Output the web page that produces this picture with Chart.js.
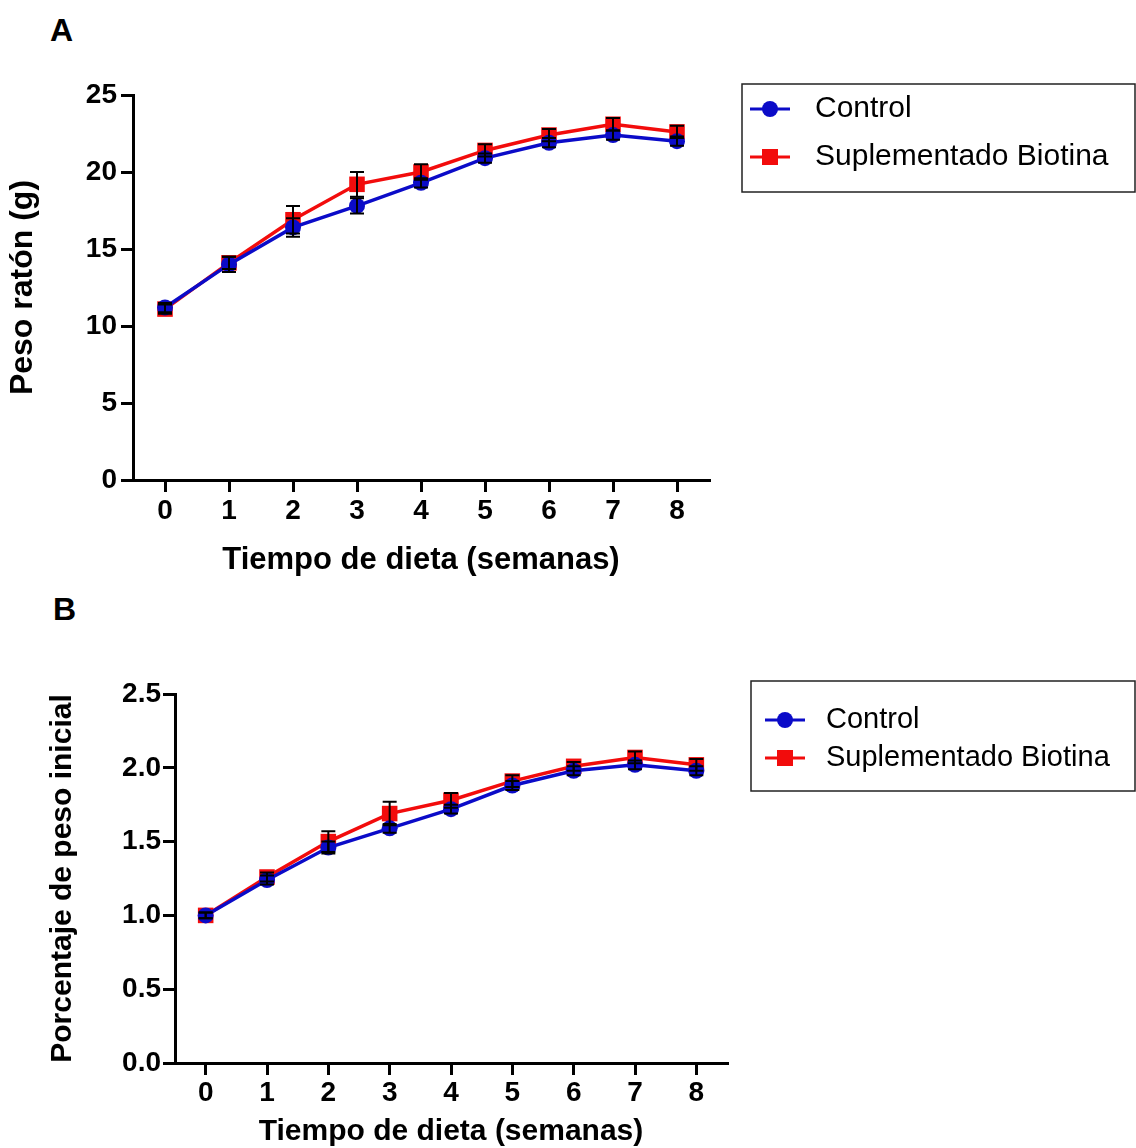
<!DOCTYPE html>
<html>
<head>
<meta charset="utf-8">
<script src="https://cdn.jsdelivr.net/npm/chart.js@4.4.1/dist/chart.umd.min.js"></script>
<style>
  body { margin: 0; background: #fff; }
  #wrap { position: relative; width: 1136px; height: 1148px; overflow: hidden; }
  .panel { position: absolute; left: 0; width: 1136px; }
  .letra { position: absolute; font: bold 32px "Liberation Sans", Arial, sans-serif; line-height: 1; color: #000; }
</style>
</head>
<body>
<div id="wrap">
  <div class="letra" style="left:50px; top:14px;">A</div>
  <div class="letra" style="left:53px; top:593px;">B</div>
  <div class="panel" style="top:0; height:590px;"><canvas id="chartA"></canvas></div>
  <div class="panel" style="top:590px; height:558px;"><canvas id="chartB"></canvas></div>
</div>
<script>
// --- datos ---
const semanas = [0, 1, 2, 3, 4, 5, 6, 7, 8];
const series = ["Control", "Suplementado Biotina"];

// A: peso del raton (g)
const pesoControl = [11.2, 14.0, 16.4, 17.8, 19.3, 20.9, 21.9, 22.4, 22.0];
const pesoBiotina = [11.1, 14.1, 16.9, 19.2, 20.0, 21.4, 22.4, 23.1, 22.6];
const errPesoControl = [0.3, 0.5, 0.6, 0.5, 0.3, 0.3, 0.3, 0.3, 0.3];
const errPesoBiotina = [0.3, 0.4, 0.9, 0.8, 0.5, 0.4, 0.4, 0.4, 0.4];

// B: porcentaje de peso inicial
const pctControl = [1.0, 1.24, 1.46, 1.59, 1.72, 1.88, 1.98, 2.02, 1.98];
const pctBiotina = [1.0, 1.26, 1.50, 1.69, 1.78, 1.91, 2.01, 2.07, 2.02];
const errPctControl = [0.02, 0.03, 0.04, 0.03, 0.03, 0.03, 0.03, 0.03, 0.03];
const errPctBiotina = [0.02, 0.03, 0.07, 0.08, 0.05, 0.04, 0.03, 0.04, 0.04];

const AZUL = "#0b0bc8";
const ROJO = "#f20c0c";
const FUENTE = '"Liberation Sans", Arial, sans-serif';

// barras de error dibujadas con las escalas del grafico
const barrasError = {
  id: "barrasError",
  afterDatasetsDraw(chart) {
    const { ctx, scales: { x, y } } = chart;
    ctx.save();
    ctx.strokeStyle = "#000";
    ctx.lineWidth = 2;
    chart.data.datasets.forEach((ds) => {
      ds.data.forEach((p, i) => {
        const e = ds.err[i];
        const px = x.getPixelForValue(p.x);
        const yHi = y.getPixelForValue(p.y + e);
        const yLo = y.getPixelForValue(p.y - e);
        ctx.beginPath();
        ctx.moveTo(px, yHi); ctx.lineTo(px, yLo);
        ctx.moveTo(px - 7, yHi); ctx.lineTo(px + 7, yHi);
        ctx.moveTo(px - 7, yLo); ctx.lineTo(px + 7, yLo);
        ctx.stroke();
      });
    });
    ctx.restore();
  },
};

// leyenda con recuadro (estilo GraphPad)
const cajaLeyenda = {
  id: "cajaLeyenda",
  afterDraw(chart, args, o) {
    const ctx = chart.ctx;
    ctx.save();
    ctx.strokeStyle = "#222";
    ctx.lineWidth = 1.5;
    ctx.strokeRect(o.x, o.y, o.w, o.h);
    chart.data.datasets.forEach((ds, i) => {
      const cy = o.filas[i];
      ctx.strokeStyle = ds.borderColor;
      ctx.lineWidth = 3;
      ctx.beginPath();
      ctx.moveTo(o.lx, cy); ctx.lineTo(o.lx + 40, cy);
      ctx.stroke();
      ctx.fillStyle = ds.borderColor;
      if (ds.pointStyle === "circle") {
        ctx.beginPath(); ctx.arc(o.lx + 20, cy, 8, 0, Math.PI * 2); ctx.fill();
      } else {
        ctx.fillRect(o.lx + 12, cy - 8, 16, 16);
      }
      ctx.fillStyle = "#000";
      ctx.font = o.size + "px " + FUENTE;
      ctx.textBaseline = "middle";
      ctx.fillText(ds.label, o.tx, cy);
    });
    ctx.restore();
  },
};

function puntos(vals) {
  return semanas.map((s, i) => ({ x: s, y: vals[i] }));
}

function serie(label, vals, err, color, estilo) {
  return {
    label, err,
    data: puntos(vals),
    borderColor: color,
    backgroundColor: color,
    borderWidth: 3.5,
    pointStyle: estilo,
    pointRadius: estilo === "circle" ? 8 : 11,
    pointBorderWidth: 0,
    tension: 0,
  };
}

function crearGrafico(id, cfg) {
  return new Chart(document.getElementById(id), {
    type: "line",
    data: {
      datasets: [
        serie(series[0], cfg.control, cfg.errControl, AZUL, "circle"),
        serie(series[1], cfg.biotina, cfg.errBiotina, ROJO, "rect"),
      ],
    },
    options: {
      responsive: true,
      maintainAspectRatio: false,
      animation: false,
      layout: { padding: cfg.padding },
      plugins: {
        legend: { display: false },
        tooltip: { enabled: false },
        cajaLeyenda: cfg.leyenda,
      },
      scales: {
        x: {
          type: "linear",
          min: -0.5, max: 8.5,
          afterBuildTicks: (s) => { s.ticks = semanas.map((v) => ({ value: v })); },
          afterFit: (s) => { s.height = cfg.xAlto; },
          border: { color: "#000", width: 3 },
          grid: { drawOnChartArea: false, color: "#000", lineWidth: 3, tickLength: 12 },
          ticks: { color: "#000", padding: cfg.xPad, font: { family: FUENTE, size: 28, weight: "bold", lineHeight: 1 } },
          title: {
            display: true, text: "Tiempo de dieta (semanas)", color: "#000",
            font: { family: FUENTE, size: cfg.xTitSize, weight: "bold", lineHeight: 1.1 },
            padding: { top: 0, bottom: cfg.xTitPad },
          },
        },
        y: {
          min: 0, max: cfg.yMax,
          afterFit: (s) => { s.width = cfg.yAncho; },
          border: { color: "#000", width: 3 },
          grid: { drawOnChartArea: false, color: "#000", lineWidth: 3, tickLength: 12 },
          ticks: {
            stepSize: cfg.yPaso, color: "#000", padding: cfg.yPad,
            font: { family: FUENTE, size: 28, weight: "bold" },
            callback: cfg.yFmt,
          },
          title: {
            display: true, text: cfg.yTitulo, color: "#000",
            font: { family: FUENTE, size: cfg.yTitSize, weight: "bold", lineHeight: 1.1 },
            padding: { top: cfg.yTitPad, bottom: 0 },
          },
        },
      },
    },
    plugins: [barrasError, cajaLeyenda],
  });
}

crearGrafico("chartA", {
  control: pesoControl, biotina: pesoBiotina,
  errControl: errPesoControl, errBiotina: errPesoBiotina,
  yMax: 25, yPaso: 5, yFmt: (v) => v,
  yTitulo: "Peso ratón (g)",
  padding: { top: 95, right: 427, left: 0, bottom: 0 },
  yAncho: 133, xAlto: 110, xPad: 5, xTitPad: 12, yPad: 4, yTitPad: 6,
  xTitSize: 31, yTitSize: 32,
  leyenda: { x: 742, y: 84, w: 393, h: 108, lx: 750, tx: 815, size: 30, filas: [109, 157] },
});

crearGrafico("chartB", {
  control: pctControl, biotina: pctBiotina,
  errControl: errPctControl, errBiotina: errPctBiotina,
  yMax: 2.5, yPaso: 0.5, yFmt: (v) => v.toFixed(1),
  yTitulo: "Porcentaje de peso inicial",
  padding: { top: 104, right: 409, left: 0, bottom: 0 },
  yAncho: 175, xAlto: 85, xPad: 4, xTitPad: 0, yPad: 2, yTitPad: 46,
  xTitSize: 30, yTitSize: 30,
  leyenda: { x: 751, y: 91, w: 384, h: 110, lx: 765, tx: 826, size: 29, filas: [130, 168] },
});
</script>
</body>
</html>
